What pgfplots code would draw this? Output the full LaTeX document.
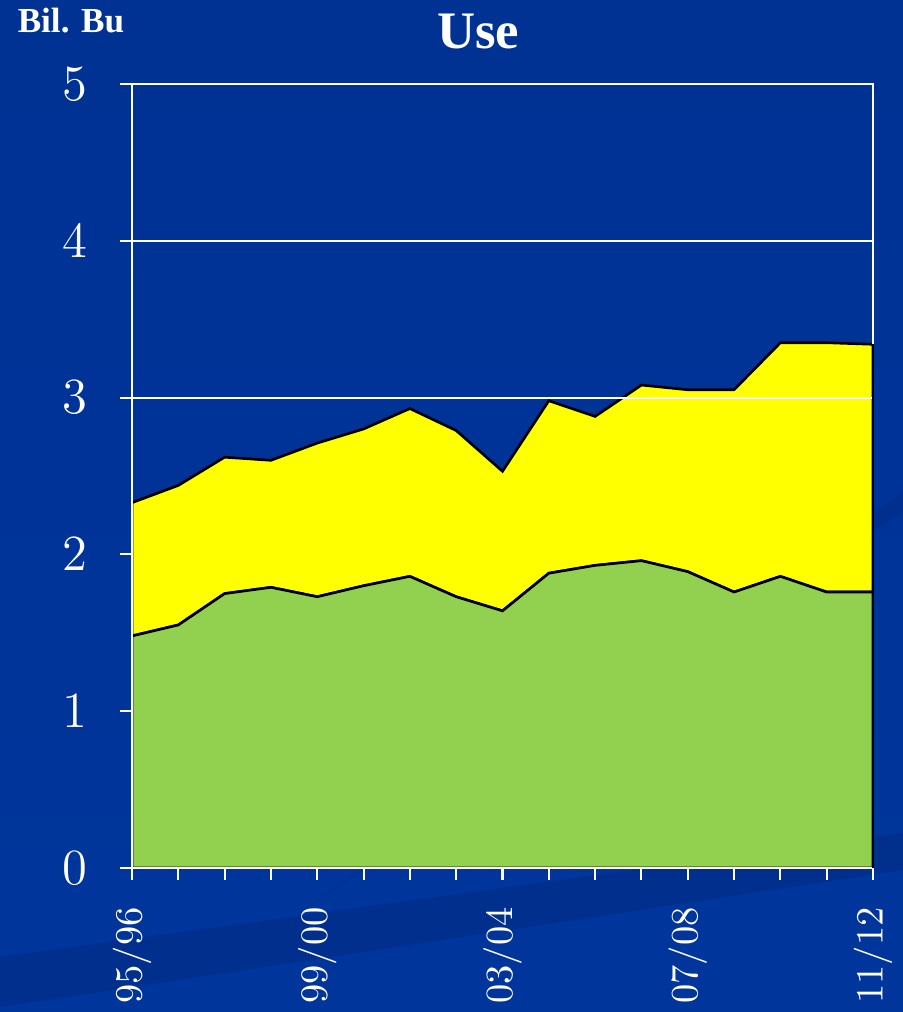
\documentclass[border=0pt]{standalone}
\usepackage{pgfplots}
\pgfplotsset{compat=1.18}
\usepackage{fontspec}
\setmainfont{Liberation Serif}
\definecolor{bgtop}{RGB}{3,34,105}
\definecolor{bgup}{RGB}{1,42,128}
\definecolor{bgmid}{RGB}{0,49,146}
\definecolor{bgbot}{RGB}{0,55,160}
\definecolor{band}{RGB}{0,40,125}
\definecolor{areagreen}{RGB}{146,208,80}
\definecolor{areayellow}{RGB}{255,255,0}
\pgfdeclareverticalshading{bgshade}{100bp}{color(0bp)=(bgbot); color(50bp)=(bgmid!60!bgbot); color(85bp)=(bgmid); color(94bp)=(bgup); color(100bp)=(bgtop)}
\pgfplotstableread{
x green yellow
0  1.48 0.85
1  1.55 0.89
2  1.75 0.87
3  1.79 0.81
4  1.73 0.98
5  1.80 1.00
6  1.86 1.07
7  1.73 1.06
8  1.64 0.89
9  1.88 1.10
10 1.93 0.95
11 1.96 1.12
12 1.89 1.16
13 1.76 1.29
14 1.86 1.49
15 1.76 1.59
16 1.76 1.58
}\usedata
\begin{document}
\begin{tikzpicture}
\shade[shading=bgshade] (0,0) rectangle (9.03cm,10.12cm);
\fill[band, opacity=0.45] (0cm,0.05cm) -- (9.03cm,1.42cm) -- (9.03cm,1.79cm) -- (0cm,0.55cm) -- cycle;
\fill[band, opacity=0.3] (3cm,1.0cm) -- (9.03cm,5.0cm) -- (9.03cm,5.2cm) -- cycle;
\begin{axis}[
  at={(1.32cm,1.44cm)}, anchor=south west,
  scale only axis, width=7.41cm, height=7.84cm,
  xmin=0, xmax=16, ymin=0, ymax=5,
  stack plots=y,
  axis on top,
  axis line style={white, line width=0.6pt},
  xtick={0,...,16},
  xticklabels={$95/96$,,,,$99/00$,,,,$03/04$,,,,$07/08$,,,,$11/12$},
  ytick={0,1,2,3,4,5},
  xtick pos=left, ytick pos=left,
  tick align=outside,
  major tick length=0.12cm,
  tick style={white, line width=0.6pt},
  ticklabel style={white},
  xticklabel style={rotate=90, anchor=east, font=\fontsize{10.95}{13}\selectfont, xshift=-0.15cm},
  yticklabel style={font=\fontsize{13.5}{15}\selectfont, xshift=-0.2cm},
]
\draw[white, line width=0.6pt] (axis cs:0,3) -- (axis cs:16,3);
\draw[white, line width=0.6pt] (axis cs:0,4) -- (axis cs:16,4);
\addplot[draw=black, line width=0.75pt, fill=areagreen] table[x=x, y=green] {\usedata} \closedcycle;
\addplot[draw=black, line width=0.75pt, fill=areayellow] table[x=x, y=yellow] {\usedata} \closedcycle;
\coordinate (rb) at (axis cs:16,0);
\coordinate (rt) at (axis cs:16,3.34);
\end{axis}
\draw[black, line width=0.75pt] (rb) -- (rt);
\node[white, font=\bfseries\fontsize{10}{12}\selectfont, anchor=base] at (0.71cm,9.80cm) {Bil. Bu};
\node[white, font=\bfseries\fontsize{15}{17}\selectfont, anchor=base] at (4.78cm,9.64cm) {Use};
\pgfresetboundingbox
\path (0,0) rectangle (9.03cm,10.12cm);
\end{tikzpicture}
\end{document}
